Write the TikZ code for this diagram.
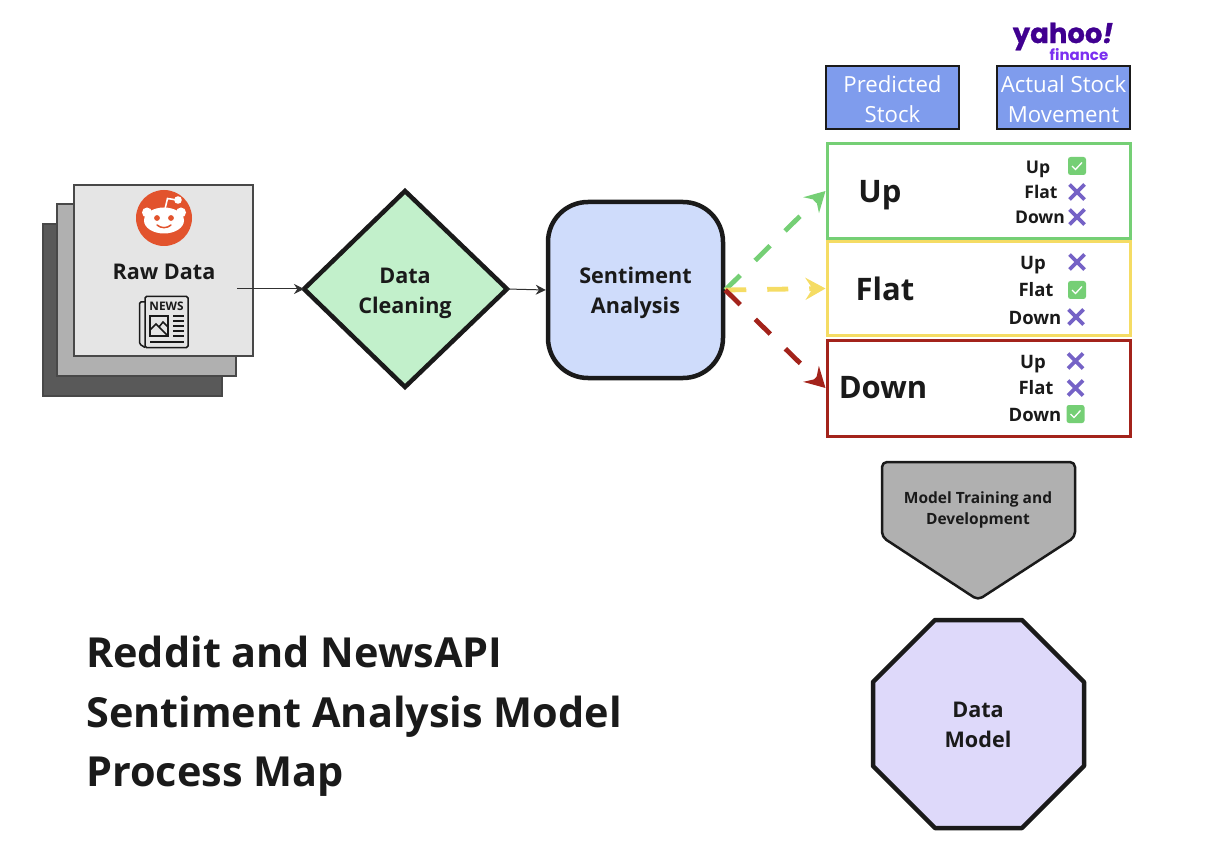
\documentclass[tikz,border=0pt]{standalone}
\usepackage{fontspec}
\setmainfont{Open Sans}
\newfontfamily\yah{Poppins}
\usetikzlibrary{arrows.meta,calc}
\definecolor{ink}{HTML}{1A1A1A}
\definecolor{gup}{HTML}{75CF75}
\definecolor{yel}{HTML}{F5DC64}
\definecolor{rdn}{HTML}{A3231B}
\definecolor{purp}{HTML}{7562C6}
\definecolor{blu}{HTML}{7F9CED}
\definecolor{redd}{HTML}{E2532D}
\tikzset{
  px/.style={x=1pt,y=-1pt},
  stack/.style={draw=ink!80,line width=1.3pt},
  lab/.style={font=\fontsize{21.6}{30}\selectfont\bfseries,text=ink,align=center,inner sep=0pt},
  opta/.style={font=\fontsize{17.5}{20}\selectfont\bfseries,text=ink,inner sep=0pt},
  optb/.style={font=\fontsize{18.5}{20}\selectfont\bfseries,text=ink,inner sep=0pt},
  big/.style={font=\fontsize{31}{36}\selectfont\bfseries,text=ink,inner sep=0pt},
  head/.style={draw=ink,line width=1.4pt,fill=blu,inner sep=0pt,minimum width=133pt,minimum height=63pt},
  headtext/.style={text=white,font=\fontsize{22.2}{30}\selectfont,align=center,inner sep=0pt},
  res/.style={fill=white,line width=3pt,minimum width=303pt,inner sep=0pt},
  title/.style={anchor=base west,font=\fontsize{41.4}{41}\selectfont\bfseries,text=ink,inner sep=0pt},
  thin arrow/.style={draw=ink!90,line width=1pt,-{Stealth[length=10pt,width=10pt]}},
  dash arrow/.style={line width=4.8pt,dash pattern=on 21pt off 21pt,-{Stealth[length=20pt,width=22pt,inset=7pt]}},
}
\newcommand{\crs}[2]{\draw[purp,line width=3.6pt] (#1-7.5,#2-7.5) -- (#1+7.5,#2+7.5) (#1-7.5,#2+7.5) -- (#1+7.5,#2-7.5);}
\newcommand{\chk}[2]{\fill[gup,rounded corners=2.5pt] (#1-9,#2-9) rectangle (#1+9,#2+9);
  \draw[white,line width=1.3pt] (#1-5,#2) -- (#1-1.5,#2+3.5) -- (#1+5,#2-3.5);}
\begin{document}
\begin{tikzpicture}[px]
\useasboundingbox (0,0) rectangle (1226,842);
\draw[stack,fill=black!65] (43,224) rectangle (222,396);
\draw[stack,fill=black!31] (57,204) rectangle (236,376);
\draw[stack,fill=black!10] (74,185) rectangle (253,356);
% reddit logo
\fill[redd] (164,218) circle (28);
\fill[white] (164,220.5) ellipse (20 and 13);
\fill[white] (147,212.5) circle (5) (181,212.5) circle (5);
\draw[white,line width=1.6pt] (165,209) -- (167.5,198.5) -- (177,200);
\fill[white] (178,200) circle (3.8);
\fill[redd] (157,218) circle (2.9) (171,218) circle (2.9);
\draw[redd,line width=1.5pt,line cap=round] (157,225) .. controls (161,228.5) and (167,228.5) .. (171,225);
\node[lab] (raw) at (164,272) {Raw Data};
% news icon
\begin{scope}[draw=ink,line width=1.5pt]
\draw[rounded corners=1.5pt] (145,296.5) -- (188,296.5) -- (188,347.5) -- (145,347.5) -- cycle;
\draw[rounded corners=1.5pt] (145,302) -- (139.5,302) -- (139.5,344) -- (145,347.5);
\draw (150,316) rectangle (168,336);
\draw (150,330) -- (156,324) -- (168,336) (159,327) -- (163,322) -- (168,327);
\draw (173,316) -- (184,316) (173,321) -- (184,321) (173,326) -- (184,326) (173,331) -- (184,331) (173,336) -- (184,336) (150,342) -- (184,342);
\end{scope}
\node[font=\fontsize{11.8}{12}\selectfont\bfseries,text=ink,inner sep=0pt] (news) at (166.5,306) {NEWS};
% main flow
\path (237,289) coordinate (rawout);
\draw[line width=4.5pt,draw=ink,fill={rgb,255:red,194;green,240;blue,203},line join=miter]
  (405,191) coordinate (dt) -- (507,289) coordinate (dr) -- (405,387) coordinate (db) -- (304,289) coordinate (dl) -- cycle;
\node[lab] (clean) at (405,293) {Data\\[0pt]Cleaning};
\draw[thin arrow] (rawout) -- (dl);
\node[draw=ink,line width=4.5pt,fill={rgb,255:red,207;green,220;blue,251},rounded corners=40pt,minimum width=175pt,minimum height=176pt,inner sep=0pt] (sent) at (635.5,290) {};
\node[lab] (senttext) at (635.5,293) {Sentiment\\[0pt]Analysis};
\draw[thin arrow] (dr) -- (sent.west);
% headers
\node[head] (pred) at (892.5,97.5) {};
\node[headtext] (predtext) at (892.5,99.5) {Predicted\\Stock};
\node[head] (act) at (1063.5,97.5) {};
\node[headtext] (acttext) at (1063.5,99.5) {Actual Stock\\Movement};
% yahoo
\node[font=\yah\fontsize{27.5}{28}\selectfont\bfseries\addfontfeature{FakeBold=1},text={rgb,255:red,64;green,0;blue,144},inner sep=0pt] (yh) at (1063,36.5) {yahoo\textit{!}};
\node[font=\yah\fontsize{15}{15}\selectfont\bfseries,text={rgb,255:red,123;green,47;blue,240},inner sep=0pt] (fin) at (1079,54.5) {finance};
% result boxes
\node[res,draw=gup,minimum height=95pt] (upb) at (978.5,191) {};
\node[res,draw=yel,minimum height=94pt] (flb) at (978.5,288.5) {};
\node[res,draw=rdn,minimum height=96pt] (dnb) at (978.5,388) {};
\node[big] (uplab) at (880,195) {Up};
\node[big] (fllab) at (885,289) {Flat};
\node[big] (dnlab) at (883,388) {Down};
\draw[dash arrow,gup] (sent.east) -- (upb.west);
\draw[dash arrow,yel] (sent.east) -- (flb.west);
\draw[dash arrow,rdn] (sent.east) -- (dnb.west);
% options
\node[opta] (a1) at (1038,169) {Up};
\node[opta] (a2) at (1041,192) {Flat};
\node[opta] (a3) at (1040,217) {Down};
\chk{1077}{166}\crs{1077}{192}\crs{1077}{217}
\node[optb] (b1) at (1033,265) {Up};
\node[optb] (b2) at (1036,290) {Flat};
\node[optb] (b3) at (1035,317.5) {Down};
\crs{1077}{262}\chk{1077}{290}\crs{1076}{317}
\node[optb] (c1) at (1033,364) {Up};
\node[optb] (c2) at (1036,388) {Flat};
\node[optb] (c3) at (1035,414.5) {Down};
\crs{1075.5}{361}\crs{1075.5}{388}\chk{1075.5}{414}
% pentagon
\draw[draw=ink,line width=2.5pt,fill=black!31,rounded corners=5pt,line join=round]
  (882,462) -- (1075,462) -- (1075,537) -- (978,600) -- (882,537) -- cycle;
\node[font=\fontsize{15.5}{21}\selectfont\bfseries,text=ink,align=center,inner sep=0pt] (train) at (978,510) {Model Training and\\Development};
% octagon
\draw[draw=ink,line width=4.5pt,fill={rgb,255:red,222;green,217;blue,250},line join=round]
  (935,620) -- (1022,620) -- (1084,682) -- (1084,766) -- (1022,828) -- (935,828) -- (873,766) -- (873,682) -- cycle;
\node[lab] (model) at (978,725) {Data\\[0pt]Model};
% title
\node[title] (t1) at (86,667) {Reddit and NewsAPI};
\node[title] (t2) at (86,727) {Sentiment Analysis Model};
\node[title] (t3) at (86,786) {Process Map};
\end{tikzpicture}
\end{document}
